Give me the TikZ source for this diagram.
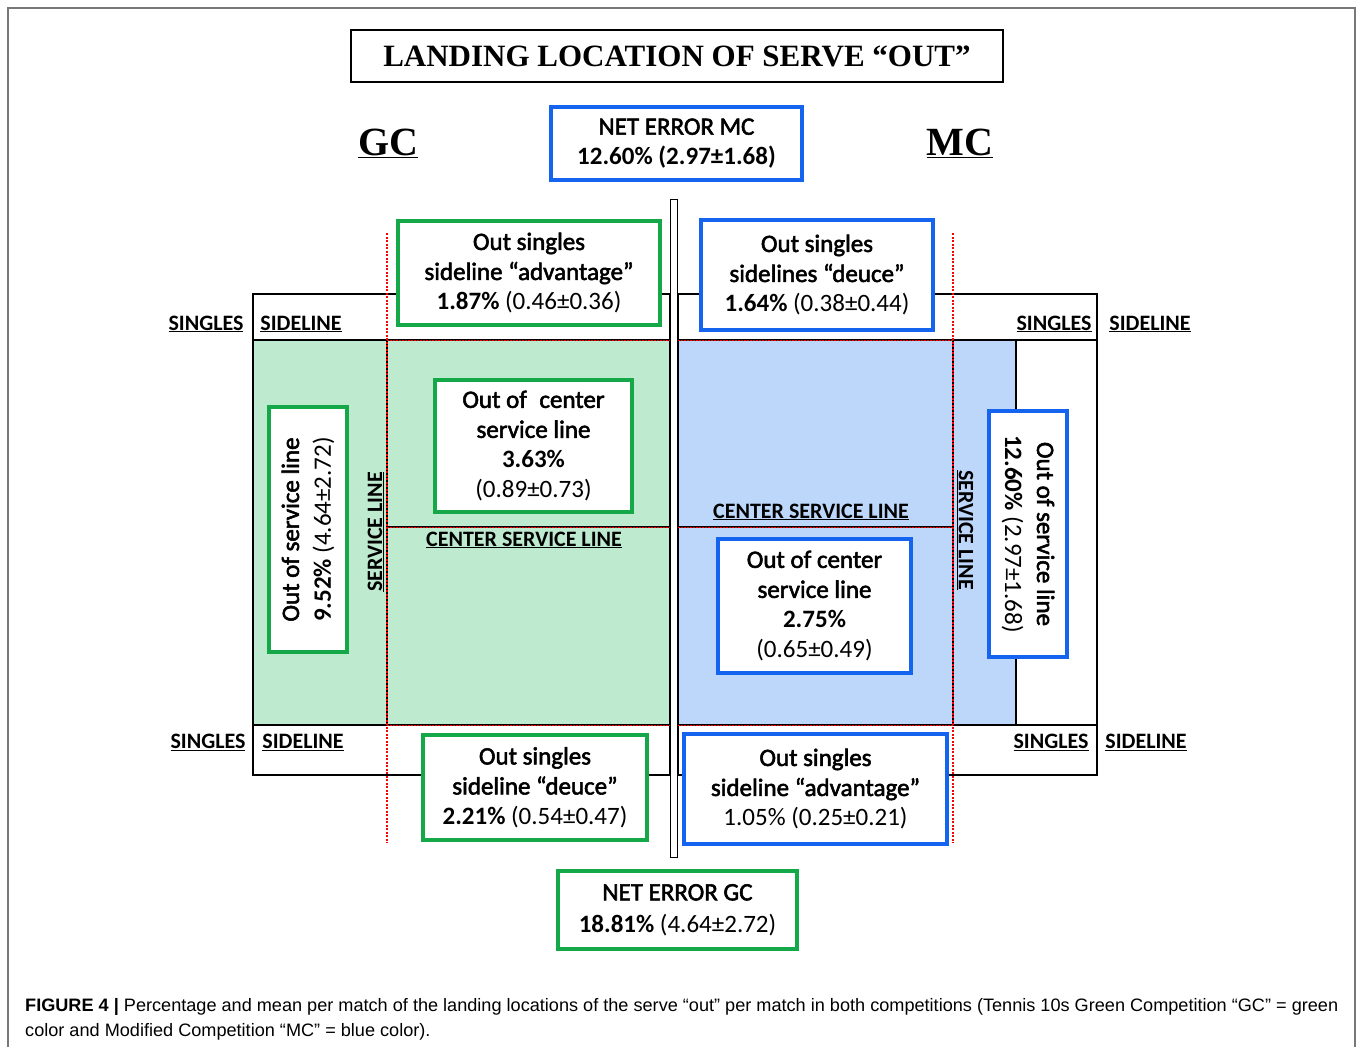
\documentclass[tikz,border=0pt]{standalone}
\usepackage{fontspec}
\usepackage{graphicx}
\setmainfont{Carlito}
\newfontfamily\medf{Carlito}[FakeBold=2.2]
\newfontfamily\serifb{Liberation Serif}
\newfontfamily\capf{Liberation Sans}
\newcommand\pb[1]{\textnormal{\bfseries #1}}
\newcommand\pr[1]{\textnormal{#1}}
\definecolor{gfill}{RGB}{190,234,208}
\definecolor{bfill}{RGB}{189,215,250}
\definecolor{gline}{RGB}{20,168,72}
\definecolor{bline}{RGB}{20,100,240}
\definecolor{frame}{RGB}{120,120,120}
\tikzset{
  box/.style={fill=white, line width=4pt, align=center, inner sep=0pt, font=\medf\fontsize{25}{30}\selectfont},
  gbox/.style={box, draw=gline},
  bbox/.style={box, draw=bline},
  lbl/.style={font=\fontsize{22}{26}\selectfont\bfseries, inner sep=0pt},
  court/.style={line width=1.6pt, black},
  reddot/.style={red, line width=1.2pt, dash pattern=on 2pt off 1.5pt},
  reddotthin/.style={red, line width=0.6pt, dash pattern=on 1.5pt off 1.5pt},
}
\begin{document}
\begin{tikzpicture}[x=1pt,y=-1pt]
\useasboundingbox (0,0) rectangle (1357,1047);
% outer frame
\draw[frame, line width=1.5pt] (8,1047) -- (8,8) -- (1355,8) -- (1355,1047);
% title
\node[draw, line width=2pt, minimum width=652, minimum height=52, inner sep=0pt,
      font=\serifb\fontsize{31}{34}\selectfont\bfseries] (title) at (677,56) {LANDING LOCATION OF SERVE “OUT”};
\node[font=\serifb\fontsize{40}{44}\selectfont\bfseries, inner sep=0pt] (gc) at (388,143) {\underline{GC}};
\node[font=\serifb\fontsize{40}{44}\selectfont\bfseries, inner sep=0pt] (mc) at (960,143) {\underline{MC}};
% court fills
\fill[gfill] (253,340) rectangle (670,725);
\fill[bfill] (678,340) rectangle (1016,725);
% left court lines
\draw[court] (253,294) rectangle (670,775);
\draw[court] (253,340) -- (670,340);
\draw[court] (253,725) -- (670,725);
\draw[court] (387,340) -- (387,725);
\draw[court] (387,527) -- (670,527);
% right court lines
\draw[court] (678,294) rectangle (1097,775);
\draw[court] (678,340) -- (1097,340);
\draw[court] (678,725) -- (1097,725);
\draw[court] (953,340) -- (953,725);
\draw[court] (1016,340) -- (1016,725);
\draw[court] (678,527) -- (953,527);
% red dotted
\draw[reddot] (387,233) -- (387,843);
\draw[reddot] (953,233) -- (953,843);
\draw[reddotthin] (387,340) -- (953,340);
\draw[reddotthin] (387,725) -- (953,725);
\draw[reddotthin] (387,527) -- (953,527);
% net
\node[draw, fill=white, line width=1.5pt, minimum width=7, minimum height=658, inner sep=0pt] (net) at (674,528.5) {};
% boxes
\node[bbox, minimum width=251, minimum height=73] (nemc) at (676.5,143.5) {NET ERROR MC\\\pb{12.60\% (2.97±1.68)}};
\node[gbox, minimum width=239, minimum height=78, font=\medf\fontsize{25}{32}\selectfont] (negc) at (677.5,910) {NET ERROR GC\\\pb{18.81\%} \pr{(4.64±2.72)}};
\node[gbox, minimum width=262, minimum height=104] (gadv) at (529,273) {Out singles\\sideline “advantage”\\\pb{1.87\%} \pr{(0.46±0.36)}};
\node[bbox, minimum width=232, minimum height=110] (bdeu) at (817,275) {Out singles\\sidelines “deuce”\\\pb{1.64\%} \pr{(0.38±0.44)}};
\node[gbox, minimum width=197, minimum height=132] (gcen) at (533.5,446) {Out of\enspace center\\service line\\\pb{3.63\%}\\\pr{(0.89±0.73)}};
\node[bbox, minimum width=193, minimum height=134] (bcen) at (814.5,606) {Out of center\\service line\\\pb{2.75\%}\\\pr{(0.65±0.49)}};
\node[gbox, rotate=90, minimum width=245, minimum height=78, font=\medf\fontsize{25}{32}\selectfont] (gsrv) at (308,529.5) {Out of service line\\\pb{9.52\%} \pr{(4.64±2.72)}};
\node[bbox, rotate=-90, minimum width=246, minimum height=78, font=\medf\fontsize{25}{32}\selectfont] (bsrv) at (1028,534) {Out of service line\\\pb{12.60\%} \pr{(2.97±1.68)}};
\node[gbox, minimum width=224, minimum height=105] (gdeu) at (535,787.5) {Out singles\\sideline “deuce”\\\pb{2.21\%} \pr{(0.54±0.47)}};
\node[bbox, minimum width=263, minimum height=110] (badv) at (815.5,789) {Out singles\\sideline “advantage”\\\pr{1.05\% (0.25±0.21)}};
% line labels
\node[lbl] (s1) at (206,324) {\underline{SINGLES}};
\node[lbl] (d1) at (301,324) {\underline{SIDELINE}};
\node[lbl] (s2) at (208,742) {\underline{SINGLES}};
\node[lbl] (d2) at (303,742) {\underline{SIDELINE}};
\node[lbl] (s3) at (1054,324) {\underline{SINGLES}};
\node[lbl] (d3) at (1150,324) {\underline{SIDELINE}};
\node[lbl] (s4) at (1051,742) {\underline{SINGLES}};
\node[lbl] (d4) at (1146,742) {\underline{SIDELINE}};
\node[lbl, rotate=90] (sl1) at (376,532) {\underline{SERVICE LINE}};
\node[lbl, rotate=-90] (sl2) at (965,530) {\underline{SERVICE LINE}};
\node[lbl] (cs1) at (524,540) {\underline{CENTER SERVICE LINE}};
\node[lbl] (cs2) at (811,512) {\underline{CENTER SERVICE LINE}};
% caption
\node[anchor=north west, inner sep=0pt, font=\capf\fontsize{18}{25}\selectfont] (cap) at (25,994)
  {\resizebox{1313pt}{\height}{\begin{tabular}{@{}l@{}}\textbf{FIGURE 4 |} Percentage and mean per match of the landing locations of the serve “out” per match in both competitions (Tennis 10s Green Competition “GC” = green\\
  color and Modified Competition “MC” = blue color).\end{tabular}}};
\end{tikzpicture}
\end{document}
